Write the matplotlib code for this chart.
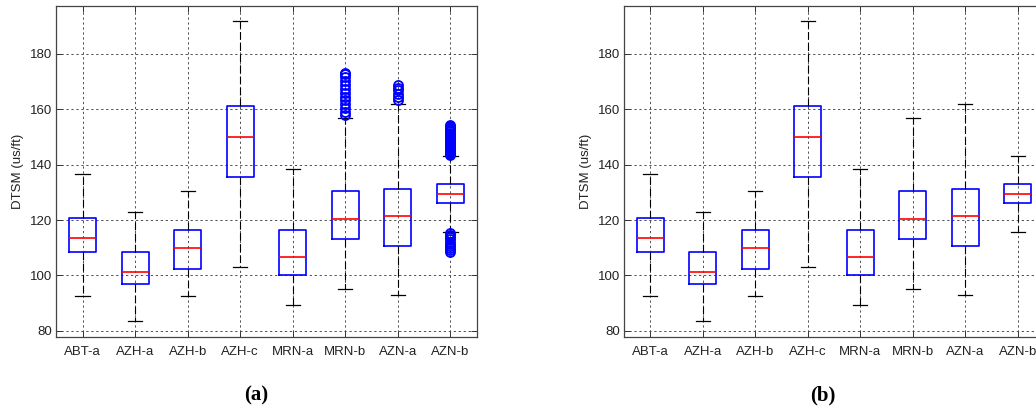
import matplotlib
matplotlib.use("Agg")
import matplotlib.pyplot as plt

categories = ["ABT-a", "AZH-a", "AZH-b", "AZH-c", "MRN-a", "MRN-b", "AZN-a", "AZN-b"]
whisker_low = [92.6, 83.4, 92.5, 103.2, 89.4, 95.2, 93.0, 115.7]
q1 = [108.5, 97.0, 102.4, 135.6, 100.0, 113.0, 110.8, 126.1]
median = [113.7, 101.3, 109.8, 149.9, 106.5, 120.5, 121.6, 129.5]
q3 = [120.9, 108.5, 116.5, 161.2, 116.6, 130.6, 131.4, 133.1]
whisker_high = [136.6, 123.0, 130.5, 191.8, 138.4, 156.9, 162.0, 143.3]

outliers_mrn_b = [157.8, 159.0, 160.4, 161.8, 163.2, 164.6, 166.0, 167.4, 168.8, 170.2, 171.6, 172.6, 173.2]
outliers_azn_a = [163.4, 164.4, 165.6, 166.8, 167.8, 168.7]
outliers_azn_b = [143.6, 144.0, 144.4, 144.8, 145.2, 145.6, 146.0, 146.4, 146.8, 147.2,
                  147.6, 148.0, 148.4, 148.8, 149.2, 149.6, 150.0, 150.4, 150.8, 151.2,
                  151.6, 152.0, 152.4, 152.8, 153.2, 153.6, 154.0, 154.4,
                  115.2, 114.6, 113.8, 113.0, 112.2, 111.4, 110.6, 109.8, 109.2, 108.6]
outliers_a = [[], [], [], [], [], outliers_mrn_b, outliers_azn_a, outliers_azn_b]

yticks = [80, 100, 120, 140, 160, 180]
ylabel = "DTSM (us/ft)"
captions = ["(a)", "(b)"]

plt.rcParams['font.family'] = ['Liberation Sans', 'DejaVu Sans']

fig = plt.figure(figsize=(10.36, 4.11), dpi=100)
ax_a = fig.add_axes([56.3/1036, 1-336.7/411, 420.4/1036, 330.7/411])
ax_b = fig.add_axes([624.1/1036, 1-336.7/411, 420.0/1036, 330.7/411])


def make_stats(with_outliers):
    stats = []
    for i, c in enumerate(categories):
        stats.append(dict(label=c, whislo=whisker_low[i], q1=q1[i], med=median[i],
                          q3=q3[i], whishi=whisker_high[i],
                          fliers=outliers_a[i] if with_outliers else []))
    return stats


for ax, with_out, cap, cx in [(ax_a, True, captions[0], 256), (ax_b, False, captions[1], 823)]:
    ax.bxp(make_stats(with_out), positions=range(1, 9), widths=0.51, capwidths=0.27,
           showfliers=True, patch_artist=False,
           boxprops=dict(color=(0, 0, 1), linewidth=1.2),
           medianprops=dict(color=(1, 0, 0), linewidth=1.2),
           whiskerprops=dict(color='black', linewidth=0.8, linestyle=(0, (7, 3))),
           capprops=dict(color='black', linewidth=0.9),
           flierprops=dict(marker='o', markersize=6.5, markerfacecolor='none',
                           markeredgecolor=(0, 0, 1), markeredgewidth=1.3))
    ax.set_xlim(0.5, 8.5)
    ax.set_ylim(77.9, 197.3)
    ax.set_yticks(yticks)
    ax.set_xticks(range(1, 9))
    ax.set_xticklabels(categories)
    ax.grid(True, color='#444444', linestyle=(0, (2.5, 3)), linewidth=0.65)
    ax.set_axisbelow(True)
    ax.tick_params(direction='in', top=True, right=True, length=4, width=0.7,
                   labelsize=9.5, colors='#333333', labelcolor='#222222')
    ax.tick_params(axis='x', pad=7)
    ax.tick_params(axis='y', pad=3)
    for s in ax.spines.values():
        s.set_color('#444444')
        s.set_linewidth(0.9)
    ax.set_ylabel(ylabel, fontsize=9.5, color='#222222', labelpad=4)
    fig.text(cx/1036, 1-395/411, cap, ha='center', va='center',
             fontsize=15, fontweight='bold', family=['Liberation Serif', 'DejaVu Serif'])

fig.savefig("out.png", dpi=100)
